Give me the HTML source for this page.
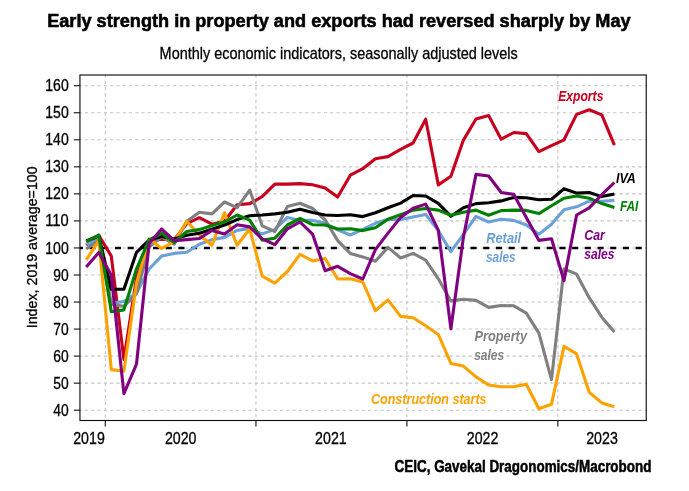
<!DOCTYPE html>
<html><head><meta charset="utf-8"><title>Chart</title>
<style>html,body{margin:0;padding:0;background:#fff}svg{display:block}text{font-family:"Liberation Sans",sans-serif;fill:#000}</style></head><body>
<svg width="689" height="491" viewBox="0 0 689 491">
<rect width="689" height="491" fill="#fff"/>
<g stroke="#c4c4c4" stroke-width="1.1" fill="none" stroke-dasharray="3.2 3.09">
<path d="M79.95 410.19H646.3" stroke-dashoffset="1.34"/>
<path d="M79.95 383.15H646.3" stroke-dashoffset="1.34"/>
<path d="M79.95 356.11H646.3" stroke-dashoffset="1.34"/>
<path d="M79.95 329.07H646.3" stroke-dashoffset="1.34"/>
<path d="M79.95 302.03H646.3" stroke-dashoffset="1.34"/>
<path d="M79.95 274.99H646.3" stroke-dashoffset="1.34"/>
<path d="M79.95 247.95H646.3" stroke-dashoffset="1.34"/>
<path d="M79.95 220.91H646.3" stroke-dashoffset="1.34"/>
<path d="M79.95 193.87H646.3" stroke-dashoffset="1.34"/>
<path d="M79.95 166.83H646.3" stroke-dashoffset="1.34"/>
<path d="M79.95 139.79H646.3" stroke-dashoffset="1.34"/>
<path d="M79.95 112.75H646.3" stroke-dashoffset="1.34"/>
<path d="M79.95 85.71H646.3" stroke-dashoffset="1.34"/>
<path d="M105.3 75.0V420.5" stroke-dashoffset="0.5"/>
<path d="M255.95 75.0V420.5" stroke-dashoffset="0.5"/>
<path d="M406.9 75.0V420.5" stroke-dashoffset="0.5"/>
<path d="M557.85 75.0V420.5" stroke-dashoffset="0.5"/>
</g>
<path d="M79.95 247.95H646.3" stroke="#000" stroke-width="2.5" fill="none" stroke-dasharray="6.1 6.6" stroke-dashoffset="3.14"/>
<g fill="none" stroke-width="3.1" stroke-linejoin="round" stroke-linecap="butt">
<path d="M86.2 245.2L98.8 235.2L111.3 256.1L123.9 359.4L136.5 277.7L149.1 241.2L161.6 239.3L174.2 239.8L186.8 223.6L199.4 217.7L211.9 224.2L224.5 221.2L237.1 204.7L249.7 203.6L262.2 196.6L274.8 184.1L287.4 184.1L300.0 183.6L312.6 184.7L325.1 187.9L337.7 197.1L350.3 175.2L362.8 168.7L375.4 158.7L388.0 156.6L400.6 149.3L413.1 143.0L425.7 119.2L438.3 184.9L450.9 176.3L463.4 140.1L476.0 119.0L488.6 115.5L501.2 139.2L513.8 132.5L526.3 133.6L538.9 151.7L551.5 145.7L564.0 139.8L576.6 114.4L589.2 109.8L601.8 114.9L614.4 145.2" stroke="#C8001E"/>
<path d="M86.2 244.4L98.8 239.8L111.3 303.4L123.9 301.5L136.5 293.1L149.1 269.0L161.6 256.1L174.2 253.4L186.8 252.3L199.4 244.2L211.9 239.6L224.5 237.4L237.1 230.4L249.7 228.5L262.2 233.9L274.8 229.6L287.4 217.4L300.0 220.4L312.6 220.4L325.1 223.1L337.7 229.8L350.3 235.0L362.8 229.3L375.4 223.3L388.0 219.3L400.6 219.6L413.1 217.1L425.7 214.4L438.3 230.6L450.9 251.7L463.4 234.4L476.0 216.3L488.6 222.0L501.2 219.3L513.8 220.4L526.3 225.0L538.9 234.2L551.5 224.2L564.0 209.8L576.6 206.8L589.2 201.2L601.8 201.2L614.4 200.4" stroke="#6CA0D8"/>
<path d="M86.2 249.0L98.8 240.4L111.3 304.5L123.9 306.4L136.5 293.9L149.1 247.1L161.6 236.9L174.2 244.2L186.8 221.2L199.4 212.3L211.9 213.9L224.5 202.0L237.1 207.7L249.7 190.1L262.2 225.8L274.8 231.5L287.4 206.6L300.0 203.3L312.6 208.5L325.1 219.8L337.7 240.6L350.3 253.4L362.8 256.9L375.4 261.2L388.0 247.4L400.6 258.0L413.1 253.4L425.7 260.1L438.3 278.8L450.9 300.9L463.4 299.3L476.0 300.4L488.6 307.4L501.2 305.5L513.8 305.8L526.3 313.1L538.9 333.1L551.5 379.6L564.0 268.8L576.6 274.2L589.2 297.7L601.8 317.2L614.4 332.0" stroke="#808080"/>
<path d="M86.2 259.8L98.8 240.9L111.3 369.6L123.9 371.3L136.5 283.1L149.1 238.8L161.6 248.5L174.2 241.5L186.8 221.2L199.4 235.0L211.9 245.2L224.5 212.8L237.1 245.2L249.7 229.0L262.2 276.1L274.8 283.1L287.4 271.5L300.0 254.4L312.6 260.9L325.1 258.5L337.7 279.0L350.3 278.8L362.8 282.0L375.4 310.7L388.0 299.9L400.6 316.4L413.1 317.7L425.7 325.8L438.3 334.5L450.9 363.4L463.4 366.1L476.0 376.9L488.6 385.0L501.2 386.7L513.8 386.7L526.3 384.2L538.9 408.8L551.5 404.2L564.0 346.4L576.6 353.9L589.2 392.3L601.8 402.9L614.4 406.7" stroke="#FFA200"/>
<path d="M86.2 240.9L98.8 235.8L111.3 289.3L123.9 289.3L136.5 252.3L149.1 240.1L161.6 236.6L174.2 239.0L186.8 235.2L199.4 233.3L211.9 229.3L224.5 225.0L237.1 219.6L249.7 215.8L262.2 215.0L274.8 213.9L287.4 212.3L300.0 209.3L312.6 212.5L325.1 215.0L337.7 215.5L350.3 214.7L362.8 216.6L375.4 212.8L388.0 207.7L400.6 203.1L413.1 195.5L425.7 196.0L438.3 203.3L450.9 216.3L463.4 207.7L476.0 203.6L488.6 202.8L501.2 200.9L513.8 197.4L526.3 197.7L538.9 199.8L551.5 199.3L564.0 188.7L576.6 193.1L589.2 192.5L601.8 196.6L614.4 193.9" stroke="#000000"/>
<path d="M86.2 241.7L98.8 235.2L111.3 311.8L123.9 309.9L136.5 269.0L149.1 239.8L161.6 233.3L174.2 242.5L186.8 231.5L199.4 229.6L211.9 225.5L224.5 222.0L237.1 215.0L249.7 220.1L262.2 240.1L274.8 238.2L287.4 225.0L300.0 218.5L312.6 224.7L325.1 225.0L337.7 229.0L350.3 228.8L362.8 230.6L375.4 227.7L388.0 219.3L400.6 214.7L413.1 210.1L425.7 208.5L438.3 210.1L450.9 215.2L463.4 212.3L476.0 210.1L488.6 215.2L501.2 210.6L513.8 210.1L526.3 210.4L538.9 213.6L551.5 205.8L564.0 198.2L576.6 196.0L589.2 198.2L601.8 203.6L614.4 207.4" stroke="#008000"/>
<path d="M86.2 267.1L98.8 252.5L111.3 275.3L123.9 393.7L136.5 364.2L149.1 243.4L161.6 229.0L174.2 240.6L186.8 239.6L199.4 238.5L211.9 230.4L224.5 233.9L237.1 224.7L249.7 226.9L262.2 238.8L274.8 244.7L287.4 228.8L300.0 222.0L312.6 234.2L325.1 270.7L337.7 266.3L350.3 273.6L362.8 279.0L375.4 249.6L388.0 233.1L400.6 217.4L413.1 208.2L425.7 204.1L438.3 230.1L450.9 328.8L463.4 237.4L476.0 174.4L488.6 176.0L501.2 192.5L513.8 194.4L526.3 217.4L538.9 240.4L551.5 238.8L564.0 280.7L576.6 215.0L589.2 207.9L601.8 194.7L614.4 182.5" stroke="#800080"/>
</g>
<rect x="79.95" y="75.0" width="566.3" height="345.5" fill="none" stroke="#111" stroke-width="1.15"/>
<g stroke="#111" stroke-width="1.1">
<path d="M73.8 410.19H79.95"/>
<path d="M73.8 383.15H79.95"/>
<path d="M73.8 356.11H79.95"/>
<path d="M73.8 329.07H79.95"/>
<path d="M73.8 302.03H79.95"/>
<path d="M73.8 274.99H79.95"/>
<path d="M73.8 247.95H79.95"/>
<path d="M73.8 220.91H79.95"/>
<path d="M73.8 193.87H79.95"/>
<path d="M73.8 166.83H79.95"/>
<path d="M73.8 139.79H79.95"/>
<path d="M73.8 112.75H79.95"/>
<path d="M73.8 85.71H79.95"/>
<path d="M105.3 420.5V426.6"/>
<path d="M255.95 420.5V426.6"/>
<path d="M406.9 420.5V426.6"/>
<path d="M557.85 420.5V426.6"/>
</g>
<g font-size="16.2" text-anchor="end" stroke="#000" stroke-width="0.3">
<text x="68.7" y="415.74" textLength="15.4" lengthAdjust="spacingAndGlyphs">40</text>
<text x="68.7" y="388.70" textLength="15.4" lengthAdjust="spacingAndGlyphs">50</text>
<text x="68.7" y="361.66" textLength="15.4" lengthAdjust="spacingAndGlyphs">60</text>
<text x="68.7" y="334.62" textLength="15.4" lengthAdjust="spacingAndGlyphs">70</text>
<text x="68.7" y="307.58" textLength="15.4" lengthAdjust="spacingAndGlyphs">80</text>
<text x="68.7" y="280.54" textLength="15.4" lengthAdjust="spacingAndGlyphs">90</text>
<text x="68.7" y="253.50" textLength="23.4" lengthAdjust="spacingAndGlyphs">100</text>
<text x="68.7" y="226.46" textLength="23.4" lengthAdjust="spacingAndGlyphs">110</text>
<text x="68.7" y="199.42" textLength="23.4" lengthAdjust="spacingAndGlyphs">120</text>
<text x="68.7" y="172.38" textLength="23.4" lengthAdjust="spacingAndGlyphs">130</text>
<text x="68.7" y="145.34" textLength="23.4" lengthAdjust="spacingAndGlyphs">140</text>
<text x="68.7" y="118.30" textLength="23.4" lengthAdjust="spacingAndGlyphs">150</text>
<text x="68.7" y="91.26" textLength="23.4" lengthAdjust="spacingAndGlyphs">160</text>
</g>
<g font-size="16.2" text-anchor="middle" stroke="#000" stroke-width="0.3">
<text x="89.0" y="443.9" textLength="31.6" lengthAdjust="spacingAndGlyphs">2019</text>
<text x="180.7" y="443.9" textLength="31.6" lengthAdjust="spacingAndGlyphs">2020</text>
<text x="330.9" y="443.9" textLength="31.6" lengthAdjust="spacingAndGlyphs">2021</text>
<text x="482.6" y="443.9" textLength="31.6" lengthAdjust="spacingAndGlyphs">2022</text>
<text x="602.0" y="443.9" textLength="31.6" lengthAdjust="spacingAndGlyphs">2023</text>
</g>
<text transform="translate(37.4 328.3) rotate(-90)" font-size="15.4" stroke="#000" stroke-width="0.3" textLength="162" lengthAdjust="spacingAndGlyphs">Index, 2019 average=100</text>
<text x="47.2" y="27.1" font-size="19.2" font-weight="bold" stroke="#000" stroke-width="0.6" textLength="583.4" lengthAdjust="spacingAndGlyphs">Early strength in property and exports had reversed sharply by May</text>
<text x="159.6" y="58.9" font-size="16.6" stroke="#000" stroke-width="0.3" textLength="358.2" lengthAdjust="spacingAndGlyphs">Monthly economic indicators, seasonally adjusted levels</text>
<text x="394.6" y="471.5" font-size="15.6" font-weight="bold" stroke="#000" stroke-width="0.5" textLength="256.8" lengthAdjust="spacingAndGlyphs">CEIC, Gavekal Dragonomics/Macrobond</text>
<text x="558.2" y="101.1" font-size="15" font-style="italic" font-weight="bold" textLength="45.2" lengthAdjust="spacingAndGlyphs" style="fill:#C8001E">Exports</text>
<text x="616.0" y="182.5" font-size="15" font-style="italic" font-weight="bold" textLength="19.8" lengthAdjust="spacingAndGlyphs" style="fill:#000">IVA</text>
<text x="619.9" y="210.5" font-size="15" font-style="italic" font-weight="bold" textLength="18.4" lengthAdjust="spacingAndGlyphs" style="fill:#008000">FAI</text>
<text x="486.2" y="243.2" font-size="15" font-style="italic" font-weight="bold" textLength="35" lengthAdjust="spacingAndGlyphs" style="fill:#6CA0D8">Retail</text>
<text x="486.0" y="262.2" font-size="15" font-style="italic" font-weight="bold" textLength="29.6" lengthAdjust="spacingAndGlyphs" style="fill:#6CA0D8">sales</text>
<text x="584.3" y="239.6" font-size="15" font-style="italic" font-weight="bold" textLength="20.6" lengthAdjust="spacingAndGlyphs" style="fill:#800080">Car</text>
<text x="584.3" y="258.7" font-size="15" font-style="italic" font-weight="bold" textLength="30.2" lengthAdjust="spacingAndGlyphs" style="fill:#800080">sales</text>
<text x="474.4" y="341.2" font-size="15" font-style="italic" font-weight="bold" textLength="52.6" lengthAdjust="spacingAndGlyphs" style="fill:#808080">Property</text>
<text x="474.2" y="360.3" font-size="15" font-style="italic" font-weight="bold" textLength="30" lengthAdjust="spacingAndGlyphs" style="fill:#808080">sales</text>
<text x="371" y="403.6" font-size="15" font-style="italic" font-weight="bold" textLength="115.6" lengthAdjust="spacingAndGlyphs" style="fill:#FFA200">Construction starts</text>
</svg></body></html>
